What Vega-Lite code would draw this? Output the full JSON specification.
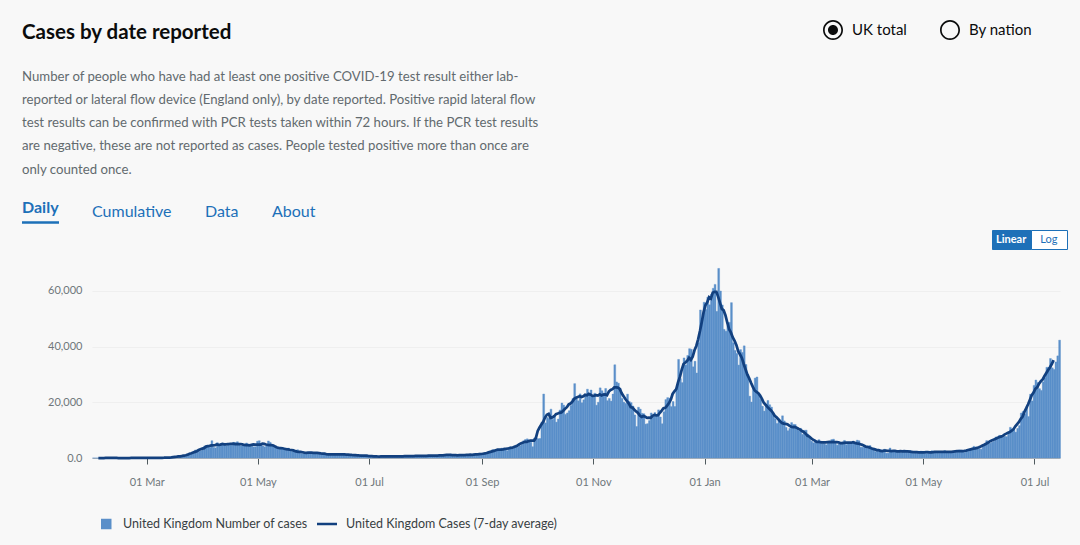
{
"$schema": "https://vega.github.io/schema/vega-lite/v6.json",
"width": 968,
"height": 195,
"padding": {"left": 22, "top": 20, "right": 13, "bottom": 14},
"background": "#f8f8f8",
"title": {
  "text": "Cases by date reported",
  "subtitle": [
    "Number of people who have had at least one positive COVID-19 test result either lab-",
    "reported or lateral flow device (England only), by date reported. Positive rapid lateral flow",
    "test results can be confirmed with PCR tests taken within 72 hours. If the PCR test results",
    "are negative, these are not reported as cases. People tested positive more than once are",
    "only counted once."
  ],
  "anchor": "start",
  "frame": "bounds",
  "offset": -156,
  "font": "Lato",
  "fontSize": 20.5,
  "fontWeight": "bold",
  "color": "#0b0c0c",
  "subtitleFont": "Lato",
  "subtitleFontSize": 13.2,
  "subtitleColor": "#626a6e",
  "subtitleLineHeight": 23.3,
  "subtitlePadding": 27
},
"datasets": {"cases": [
{"d":"2020-01-31","c":2},
{"d":"2020-02-01","c":0},{"d":"2020-02-02","c":0},{"d":"2020-02-03","c":0,"a":0},{"d":"2020-02-04","c":0,"a":0},{"d":"2020-02-05","c":0,"a":0},{"d":"2020-02-06","c":1,"a":0},{"d":"2020-02-07","c":0,"a":1},{"d":"2020-02-08","c":0,"a":1},{"d":"2020-02-09","c":1,"a":1},{"d":"2020-02-10","c":4,"a":1},{"d":"2020-02-11","c":1,"a":1},{"d":"2020-02-12","c":0,"a":1},{"d":"2020-02-13","c":1,"a":1},{"d":"2020-02-14","c":0,"a":0},{"d":"2020-02-15","c":1,"a":0},{"d":"2020-02-16","c":0,"a":0},{"d":"2020-02-17","c":0,"a":0},{"d":"2020-02-18","c":0,"a":0},{"d":"2020-02-19","c":0,"a":0},{"d":"2020-02-20","c":0,"a":0},{"d":"2020-02-21","c":0,"a":1},{"d":"2020-02-22","c":0,"a":1},{"d":"2020-02-23","c":0,"a":1},{"d":"2020-02-24","c":4,"a":1},{"d":"2020-02-25","c":0,"a":2},{"d":"2020-02-26","c":0,"a":3},{"d":"2020-02-27","c":2,"a":3},{"d":"2020-02-28","c":7,"a":4},{"d":"2020-02-29","c":5,"a":6},
{"d":"2020-03-01","c":13,"a":11},{"d":"2020-03-02","c":4,"a":15},{"d":"2020-03-03","c":11,"a":21},{"d":"2020-03-04","c":34,"a":26},{"d":"2020-03-05","c":30,"a":34},{"d":"2020-03-06","c":48,"a":40},{"d":"2020-03-07","c":43,"a":46},{"d":"2020-03-08","c":67,"a":53},{"d":"2020-03-09","c":48,"a":68},{"d":"2020-03-10","c":52,"a":91},{"d":"2020-03-11","c":83,"a":133},{"d":"2020-03-12","c":134,"a":160},{"d":"2020-03-13","c":208,"a":175},{"d":"2020-03-14","c":342,"a":225},{"d":"2020-03-15","c":251,"a":310},{"d":"2020-03-16","c":152,"a":383},{"d":"2020-03-17","c":407,"a":455},{"d":"2020-03-18","c":676,"a":554},{"d":"2020-03-19","c":643,"a":613},{"d":"2020-03-20","c":714,"a":730},{"d":"2020-03-21","c":1035,"a":875},{"d":"2020-03-22","c":665,"a":986},{"d":"2020-03-23","c":967,"a":1198},{"d":"2020-03-24","c":1427,"a":1509},{"d":"2020-03-25","c":1452,"a":1724},{"d":"2020-03-26","c":2129,"a":1977},{"d":"2020-03-27","c":2885,"a":2213},{"d":"2020-03-28","c":2546,"a":2439},{"d":"2020-03-29","c":2433,"a":2849},{"d":"2020-03-30","c":2619,"a":3151},{"d":"2020-03-31","c":3009,"a":3375},
{"d":"2020-04-01","c":4324,"a":3545},{"d":"2020-04-02","c":4244,"a":4083},{"d":"2020-04-03","c":4450,"a":4252},{"d":"2020-04-04","c":3735,"a":4341},{"d":"2020-04-05","c":6200,"a":4508},{"d":"2020-04-06","c":3802,"a":4522},{"d":"2020-04-07","c":3634,"a":4629},{"d":"2020-04-08","c":5491,"a":4843},{"d":"2020-04-09","c":4344,"a":4713},{"d":"2020-04-10","c":5200,"a":4790},{"d":"2020-04-11","c":5233,"a":5021},{"d":"2020-04-12","c":5288,"a":4895},{"d":"2020-04-13","c":4342,"a":4934},{"d":"2020-04-14","c":5252,"a":4991},{"d":"2020-04-15","c":4603,"a":5032},{"d":"2020-04-16","c":4617,"a":5113},{"d":"2020-04-17","c":5599,"a":5160},{"d":"2020-04-18","c":5525,"a":5024},{"d":"2020-04-19","c":5850,"a":5003},{"d":"2020-04-20","c":4676,"a":4998},{"d":"2020-04-21","c":4301,"a":4967},{"d":"2020-04-22","c":4451,"a":4880},{"d":"2020-04-23","c":4583,"a":4682},{"d":"2020-04-24","c":5386,"a":4629},{"d":"2020-04-25","c":4913,"a":4586},{"d":"2020-04-26","c":4463,"a":4532},{"d":"2020-04-27","c":4309,"a":4739},{"d":"2020-04-28","c":3996,"a":4856},{"d":"2020-04-29","c":4076,"a":4840},{"d":"2020-04-30","c":6032,"a":4823},
{"d":"2020-05-01","c":6201,"a":4776},{"d":"2020-05-02","c":4806,"a":4835},{"d":"2020-05-03","c":4339,"a":5126},{"d":"2020-05-04","c":3985,"a":5066},{"d":"2020-05-05","c":4406,"a":4844},{"d":"2020-05-06","c":6111,"a":4714},{"d":"2020-05-07","c":5614,"a":4655},{"d":"2020-05-08","c":4649,"a":4639},{"d":"2020-05-09","c":3896,"a":4496},{"d":"2020-05-10","c":3923,"a":4086},{"d":"2020-05-11","c":3877,"a":3777},{"d":"2020-05-12","c":3403,"a":3621},{"d":"2020-05-13","c":3242,"a":3557},{"d":"2020-05-14","c":3446,"a":3502},{"d":"2020-05-15","c":3560,"a":3331},{"d":"2020-05-16","c":3451,"a":3190},{"d":"2020-05-17","c":3534,"a":3080},{"d":"2020-05-18","c":2684,"a":2961},{"d":"2020-05-19","c":2412,"a":2875},{"d":"2020-05-20","c":2472,"a":2726},{"d":"2020-05-21","c":2615,"a":2454},{"d":"2020-05-22","c":2959,"a":2295},{"d":"2020-05-23","c":2409,"a":2236},{"d":"2020-05-24","c":1625,"a":2171},{"d":"2020-05-25","c":1570,"a":2067},{"d":"2020-05-26","c":2004,"a":1943},{"d":"2020-05-27","c":2013,"a":1876},{"d":"2020-05-28","c":1887,"a":1920},{"d":"2020-05-29","c":2095,"a":1920},{"d":"2020-05-30","c":1936,"a":1901},{"d":"2020-05-31","c":1936,"a":1881},
{"d":"2020-06-01","c":1570,"a":1869},{"d":"2020-06-02","c":1871,"a":1806},{"d":"2020-06-03","c":1871,"a":1751},{"d":"2020-06-04","c":1805,"a":1664},{"d":"2020-06-05","c":1650,"a":1612},{"d":"2020-06-06","c":1557,"a":1543},{"d":"2020-06-07","c":1326,"a":1419},{"d":"2020-06-08","c":1205,"a":1342},{"d":"2020-06-09","c":1387,"a":1326},{"d":"2020-06-10","c":1003,"a":1308},{"d":"2020-06-11","c":1266,"a":1334},{"d":"2020-06-12","c":1541,"a":1313},{"d":"2020-06-13","c":1425,"a":1298},{"d":"2020-06-14","c":1514,"a":1314},{"d":"2020-06-15","c":1056,"a":1307},{"d":"2020-06-16","c":1279,"a":1279},{"d":"2020-06-17","c":1115,"a":1260},{"d":"2020-06-18","c":1218,"a":1219},{"d":"2020-06-19","c":1346,"a":1205},{"d":"2020-06-20","c":1295,"a":1147},{"d":"2020-06-21","c":1221,"a":1081},{"d":"2020-06-22","c":958,"a":1066},{"d":"2020-06-23","c":874,"a":1018},{"d":"2020-06-24","c":653,"a":960},{"d":"2020-06-25","c":1118,"a":914},{"d":"2020-06-26","c":1006,"a":894},{"d":"2020-06-27","c":890,"a":867},{"d":"2020-06-28","c":901,"a":893},{"d":"2020-06-29","c":815,"a":815},{"d":"2020-06-30","c":689,"a":749},
{"d":"2020-07-01","c":829,"a":711},{"d":"2020-07-02","c":576,"a":656},{"d":"2020-07-03","c":544,"a":590},{"d":"2020-07-04","c":624,"a":575},{"d":"2020-07-05","c":516,"a":546},{"d":"2020-07-06","c":352,"a":537},{"d":"2020-07-07","c":581,"a":551},{"d":"2020-07-08","c":630,"a":579},{"d":"2020-07-09","c":512,"a":598},{"d":"2020-07-10","c":642,"a":624},{"d":"2020-07-11","c":820,"a":626},{"d":"2020-07-12","c":650,"a":613},{"d":"2020-07-13","c":530,"a":606},{"d":"2020-07-14","c":598,"a":612},{"d":"2020-07-15","c":538,"a":613},{"d":"2020-07-16","c":463,"a":603},{"d":"2020-07-17","c":687,"a":604},{"d":"2020-07-18","c":827,"a":582},{"d":"2020-07-19","c":580,"a":585},{"d":"2020-07-20","c":536,"a":629},{"d":"2020-07-21","c":445,"a":641},{"d":"2020-07-22","c":560,"a":632},{"d":"2020-07-23","c":769,"a":656},{"d":"2020-07-24","c":768,"a":677},{"d":"2020-07-25","c":767,"a":697},{"d":"2020-07-26","c":747,"a":726},{"d":"2020-07-27","c":685,"a":737},{"d":"2020-07-28","c":581,"a":753},{"d":"2020-07-29","c":763,"a":749},{"d":"2020-07-30","c":846,"a":749},{"d":"2020-07-31","c":880,"a":785},
{"d":"2020-08-01","c":743,"a":798},{"d":"2020-08-02","c":744,"a":816},{"d":"2020-08-03","c":938,"a":831},{"d":"2020-08-04","c":670,"a":830},{"d":"2020-08-05","c":892,"a":832},{"d":"2020-08-06","c":950,"a":877},{"d":"2020-08-07","c":871,"a":860},{"d":"2020-08-08","c":758,"a":928},{"d":"2020-08-09","c":1062,"a":945},{"d":"2020-08-10","c":816,"a":978},{"d":"2020-08-11","c":1148,"a":1059},{"d":"2020-08-12","c":1009,"a":1096},{"d":"2020-08-13","c":1182,"a":1093},{"d":"2020-08-14","c":1441,"a":1078},{"d":"2020-08-15","c":1012,"a":1069},{"d":"2020-08-16","c":1040,"a":1041},{"d":"2020-08-17","c":713,"a":1041},{"d":"2020-08-18","c":1089,"a":983},{"d":"2020-08-19","c":812,"a":1022},{"d":"2020-08-20","c":1182,"a":1023},{"d":"2020-08-21","c":1033,"a":1043},{"d":"2020-08-22","c":1288,"a":1056},{"d":"2020-08-23","c":1041,"a":1090},{"d":"2020-08-24","c":853,"a":1138},{"d":"2020-08-25","c":1184,"a":1173},{"d":"2020-08-26","c":1048,"a":1147},{"d":"2020-08-27","c":1522,"a":1244},{"d":"2020-08-28","c":1276,"a":1323},{"d":"2020-08-29","c":1108,"a":1339},{"d":"2020-08-30","c":1715,"a":1404},{"d":"2020-08-31","c":1406,"a":1435},
{"d":"2020-09-01","c":1295,"a":1530},{"d":"2020-09-02","c":1508,"a":1630},{"d":"2020-09-03","c":1735,"a":1812},{"d":"2020-09-04","c":1940,"a":2032},{"d":"2020-09-05","c":1813,"a":2199},{"d":"2020-09-06","c":2988,"a":2363},{"d":"2020-09-07","c":2948,"a":2532},{"d":"2020-09-08","c":2460,"a":2761},{"d":"2020-09-09","c":2659,"a":3001},{"d":"2020-09-10","c":2919,"a":3050},{"d":"2020-09-11","c":3539,"a":3004},{"d":"2020-09-12","c":3497,"a":3096},{"d":"2020-09-13","c":3330,"a":3286},{"d":"2020-09-14","c":2621,"a":3354},{"d":"2020-09-15","c":3105,"a":3466},{"d":"2020-09-16","c":3991,"a":3598},{"d":"2020-09-17","c":3395,"a":3679},{"d":"2020-09-18","c":4322,"a":3929},{"d":"2020-09-19","c":4422,"a":4189},{"d":"2020-09-20","c":3899,"a":4501},{"d":"2020-09-21","c":4368,"a":4964},{"d":"2020-09-22","c":4926,"a":5329},{"d":"2020-09-23","c":6178,"a":5560},{"d":"2020-09-24","c":6634,"a":5816},{"d":"2020-09-25","c":6874,"a":5770},{"d":"2020-09-26","c":6042,"a":6087},{"d":"2020-09-27","c":5693,"a":6220},{"d":"2020-09-28","c":4044,"a":6260},{"d":"2020-09-29","c":7143,"a":6273},{"d":"2020-09-30","c":7108,"a":7249},
{"d":"2020-10-01","c":6914,"a":9716},{"d":"2020-10-02","c":6968,"a":10937},{"d":"2020-10-03","c":12872,"a":11994},{"d":"2020-10-04","c":22961,"a":13002},{"d":"2020-10-05","c":12594,"a":14520},{"d":"2020-10-06","c":14542,"a":15505},{"d":"2020-10-07","c":14162,"a":15833},{"d":"2020-10-08","c":17540,"a":14391},{"d":"2020-10-09","c":13864,"a":14588},{"d":"2020-10-10","c":15166,"a":14973},{"d":"2020-10-11","c":12872,"a":15767},{"d":"2020-10-12","c":13972,"a":15973},{"d":"2020-10-13","c":17234,"a":16228},{"d":"2020-10-14","c":19724,"a":16372},{"d":"2020-10-15","c":18980,"a":16959},{"d":"2020-10-16","c":15650,"a":17649},{"d":"2020-10-17","c":16171,"a":18235},{"d":"2020-10-18","c":16982,"a":19229},{"d":"2020-10-19","c":18804,"a":19553},{"d":"2020-10-20","c":21331,"a":20250},{"d":"2020-10-21","c":26688,"a":21227},{"d":"2020-10-22","c":21242,"a":21628},{"d":"2020-10-23","c":20530,"a":21926},{"d":"2020-10-24","c":23012,"a":22148},{"d":"2020-10-25","c":19790,"a":21864},{"d":"2020-10-26","c":20890,"a":22125},{"d":"2020-10-27","c":22885,"a":22678},{"d":"2020-10-28","c":24701,"a":22522},{"d":"2020-10-29","c":23065,"a":23016},{"d":"2020-10-30","c":24405,"a":22739},{"d":"2020-10-31","c":21915,"a":22330},
{"d":"2020-11-01","c":23254,"a":22398},{"d":"2020-11-02","c":18950,"a":22551},{"d":"2020-11-03","c":20018,"a":22392},{"d":"2020-11-04","c":25177,"a":22826},{"d":"2020-11-05","c":24141,"a":22443},{"d":"2020-11-06","c":23287,"a":22786},{"d":"2020-11-07","c":24957,"a":22842},{"d":"2020-11-08","c":20572,"a":22524},{"d":"2020-11-09","c":21350,"a":23857},{"d":"2020-11-10","c":20412,"a":24430},{"d":"2020-11-11","c":22950,"a":24702},{"d":"2020-11-12","c":33470,"a":25329},{"d":"2020-11-13","c":27301,"a":25331},{"d":"2020-11-14","c":26860,"a":25280},{"d":"2020-11-15","c":24962,"a":24802},{"d":"2020-11-16","c":21363,"a":23294},{"d":"2020-11-17","c":20051,"a":22287},{"d":"2020-11-18","c":19609,"a":21290},{"d":"2020-11-19","c":22915,"a":20390},{"d":"2020-11-20","c":20252,"a":19545},{"d":"2020-11-21","c":19875,"a":18295},{"d":"2020-11-22","c":18662,"a":18095},{"d":"2020-11-23","c":15450,"a":17329},{"d":"2020-11-24","c":11299,"a":16725},{"d":"2020-11-25","c":18213,"a":16153},{"d":"2020-11-26","c":17555,"a":15224},{"d":"2020-11-27","c":16022,"a":14778},{"d":"2020-11-28","c":15871,"a":15082},{"d":"2020-11-29","c":12155,"a":14790},{"d":"2020-11-30","c":12330,"a":14408},
{"d":"2020-12-01","c":13430,"a":14448},{"d":"2020-12-02","c":16170,"a":14400},{"d":"2020-12-03","c":14879,"a":15131},{"d":"2020-12-04","c":16298,"a":15472},{"d":"2020-12-05","c":15539,"a":15308},{"d":"2020-12-06","c":17272,"a":15367},{"d":"2020-12-07","c":14718,"a":16236},{"d":"2020-12-08","c":12282,"a":17004},{"d":"2020-12-09","c":16578,"a":17855},{"d":"2020-12-10","c":20964,"a":18023},{"d":"2020-12-11","c":21672,"a":18815},{"d":"2020-12-12","c":21502,"a":19697},{"d":"2020-12-13","c":18447,"a":20923},{"d":"2020-12-14","c":20263,"a":22983},{"d":"2020-12-15","c":18450,"a":23959},{"d":"2020-12-16","c":25161,"a":24752},{"d":"2020-12-17","c":35383,"a":27249},{"d":"2020-12-18","c":28507,"a":29121},{"d":"2020-12-19","c":27052,"a":31743},{"d":"2020-12-20","c":35928,"a":33754},{"d":"2020-12-21","c":33364,"a":34275},{"d":"2020-12-22","c":36804,"a":34878},{"d":"2020-12-23","c":39237,"a":35970},{"d":"2020-12-24","c":39036,"a":35194},{"d":"2020-12-25","c":32725,"a":36340},{"d":"2020-12-26","c":34693,"a":38673},{"d":"2020-12-27","c":30501,"a":40214},{"d":"2020-12-28","c":41385,"a":42622},{"d":"2020-12-29","c":53135,"a":45559},{"d":"2020-12-30","c":50023,"a":48849},{"d":"2020-12-31","c":55892,"a":52348},
{"d":"2021-01-01","c":53285,"a":54833},{"d":"2021-01-02","c":57725,"a":55945},{"d":"2021-01-03","c":54990,"a":57702},{"d":"2021-01-04","c":58784,"a":57234},{"d":"2021-01-05","c":60916,"a":59344},{"d":"2021-01-06","c":62322,"a":59660},{"d":"2021-01-07","c":52618,"a":59653},{"d":"2021-01-08","c":68053,"a":57851},{"d":"2021-01-09","c":59937,"a":55653},{"d":"2021-01-10","c":54940,"a":53539},{"d":"2021-01-11","c":46169,"a":52977},{"d":"2021-01-12","c":45533,"a":51221},{"d":"2021-01-13","c":47525,"a":48565},{"d":"2021-01-14","c":48682,"a":46231},{"d":"2021-01-15","c":55761,"a":44997},{"d":"2021-01-16","c":41346,"a":43257},{"d":"2021-01-17","c":38598,"a":42026},{"d":"2021-01-18","c":37535,"a":40485},{"d":"2021-01-19","c":33355,"a":38270},{"d":"2021-01-20","c":38905,"a":37157},{"d":"2021-01-21","c":37892,"a":35929},{"d":"2021-01-22","c":40261,"a":33738},{"d":"2021-01-23","c":33552,"a":31843},{"d":"2021-01-24","c":30004,"a":29900},{"d":"2021-01-25","c":22195,"a":28584},{"d":"2021-01-26","c":20089,"a":26987},{"d":"2021-01-27","c":25308,"a":25519},{"d":"2021-01-28","c":28680,"a":24245},{"d":"2021-01-29","c":29079,"a":23732},{"d":"2021-01-30","c":23275,"a":23268},{"d":"2021-01-31","c":21088,"a":22396},
{"d":"2021-02-01","c":18607,"a":21246},{"d":"2021-02-02","c":16840,"a":19823},{"d":"2021-02-03","c":19202,"a":19107},{"d":"2021-02-04","c":20634,"a":18358},{"d":"2021-02-05","c":19114,"a":17714},{"d":"2021-02-06","c":18262,"a":17075},{"d":"2021-02-07","c":15845,"a":16260},{"d":"2021-02-08","c":14104,"a":15171},{"d":"2021-02-09","c":12364,"a":14604},{"d":"2021-02-10","c":13494,"a":13896},{"d":"2021-02-11","c":13013,"a":13200},{"d":"2021-02-12","c":15144,"a":12580},{"d":"2021-02-13","c":13308,"a":12332},{"d":"2021-02-14","c":10972,"a":12221},{"d":"2021-02-15","c":9765,"a":12084},{"d":"2021-02-16","c":10625,"a":11639},{"d":"2021-02-17","c":12718,"a":11224},{"d":"2021-02-18","c":12057,"a":11062},{"d":"2021-02-19","c":12027,"a":11187},{"d":"2021-02-20","c":10406,"a":10882},{"d":"2021-02-21","c":9834,"a":10485},{"d":"2021-02-22","c":10641,"a":10189},{"d":"2021-02-23","c":8489,"a":9688},{"d":"2021-02-24","c":9938,"a":9263},{"d":"2021-02-25","c":9985,"a":8721},{"d":"2021-02-26","c":8523,"a":7980},{"d":"2021-02-27","c":7434,"a":7680},{"d":"2021-02-28","c":6035,"a":7084},
{"d":"2021-03-01","c":5455,"a":6597},{"d":"2021-03-02","c":6391,"a":6242},{"d":"2021-03-03","c":5766,"a":5777},{"d":"2021-03-04","c":6573,"a":5797},{"d":"2021-03-05","c":6040,"a":5691},{"d":"2021-03-06","c":5177,"a":5602},{"d":"2021-03-07","c":5177,"a":5624},{"d":"2021-03-08","c":4712,"a":5630},{"d":"2021-03-09","c":5766,"a":5731},{"d":"2021-03-10","c":5926,"a":5782},{"d":"2021-03-11","c":6609,"a":5703},{"d":"2021-03-12","c":6753,"a":5756},{"d":"2021-03-13","c":5534,"a":5689},{"d":"2021-03-14","c":4618,"a":5665},{"d":"2021-03-15","c":5089,"a":5621},{"d":"2021-03-16","c":5294,"a":5343},{"d":"2021-03-17","c":5758,"a":5350},{"d":"2021-03-18","c":6303,"a":5449},{"d":"2021-03-19","c":4802,"a":5485},{"d":"2021-03-20","c":5587,"a":5498},{"d":"2021-03-21","c":5312,"a":5476},{"d":"2021-03-22","c":5342,"a":5489},{"d":"2021-03-23","c":5379,"a":5687},{"d":"2021-03-24","c":5605,"a":5441},{"d":"2021-03-25","c":6397,"a":5233},{"d":"2021-03-26","c":6187,"a":5135},{"d":"2021-03-27","c":3862,"a":4944},{"d":"2021-03-28","c":3862,"a":4722},{"d":"2021-03-29","c":4654,"a":4448},{"d":"2021-03-30","c":4040,"a":4050},{"d":"2021-03-31","c":4052,"a":3987},
{"d":"2021-04-01","c":4479,"a":3764},{"d":"2021-04-02","c":3402,"a":3494},{"d":"2021-04-03","c":3423,"a":3256},{"d":"2021-04-04","c":2297,"a":3101},{"d":"2021-04-05","c":2762,"a":2856},{"d":"2021-04-06","c":2379,"a":2820},{"d":"2021-04-07","c":2963,"a":2578},{"d":"2021-04-08","c":2763,"a":2497},{"d":"2021-04-09","c":3150,"a":2612},{"d":"2021-04-10","c":1730,"a":2625},{"d":"2021-04-11","c":1730,"a":2558},{"d":"2021-04-12","c":3568,"a":2545},{"d":"2021-04-13","c":2472,"a":2466},{"d":"2021-04-14","c":2491,"a":2534},{"d":"2021-04-15","c":2672,"a":2555},{"d":"2021-04-16","c":2596,"a":2406},{"d":"2021-04-17","c":2206,"a":2395},{"d":"2021-04-18","c":1882,"a":2429},{"d":"2021-04-19","c":2524,"a":2415},{"d":"2021-04-20","c":2396,"a":2427},{"d":"2021-04-21","c":2729,"a":2384},{"d":"2021-04-22","c":2573,"a":2360},{"d":"2021-04-23","c":2678,"a":2294},{"d":"2021-04-24","c":1907,"a":2230},{"d":"2021-04-25","c":1712,"a":2149},{"d":"2021-04-26","c":2064,"a":2131},{"d":"2021-04-27","c":1946,"a":2089},{"d":"2021-04-28","c":2166,"a":2055},{"d":"2021-04-29","c":2445,"a":2046},{"d":"2021-04-30","c":2381,"a":2004},
{"d":"2021-05-01","c":1671,"a":2004},{"d":"2021-05-02","c":1649,"a":2068},{"d":"2021-05-03","c":1770,"a":2074},{"d":"2021-05-04","c":1946,"a":2027},{"d":"2021-05-05","c":2613,"a":2060},{"d":"2021-05-06","c":2490,"a":2078},{"d":"2021-05-07","c":2047,"a":2161},{"d":"2021-05-08","c":1907,"a":2210},{"d":"2021-05-09","c":1770,"a":2216},{"d":"2021-05-10","c":2357,"a":2174},{"d":"2021-05-11","c":2284,"a":2194},{"d":"2021-05-12","c":2657,"a":2197},{"d":"2021-05-13","c":2193,"a":2227},{"d":"2021-05-14","c":2193,"a":2173},{"d":"2021-05-15","c":1926,"a":2191},{"d":"2021-05-16","c":1979,"a":2197},{"d":"2021-05-17","c":1979,"a":2294},{"d":"2021-05-18","c":2412,"a":2385},{"d":"2021-05-19","c":2696,"a":2429},{"d":"2021-05-20","c":2874,"a":2429},{"d":"2021-05-21","c":2829,"a":2495},{"d":"2021-05-22","c":2235,"a":2506},{"d":"2021-05-23","c":1979,"a":2576},{"d":"2021-05-24","c":2439,"a":2671},{"d":"2021-05-25","c":2493,"a":2864},{"d":"2021-05-26","c":3180,"a":3030},{"d":"2021-05-27","c":3542,"a":3211},{"d":"2021-05-28","c":4182,"a":3345},{"d":"2021-05-29","c":3398,"a":3441},{"d":"2021-05-30","c":3240,"a":3606},{"d":"2021-05-31","c":3383,"a":3853},
{"d":"2021-06-01","c":3165,"a":4147},{"d":"2021-06-02","c":4330,"a":4485},{"d":"2021-06-03","c":5274,"a":4785},{"d":"2021-06-04","c":6238,"a":5114},{"d":"2021-06-05","c":5765,"a":5526},{"d":"2021-06-06","c":5341,"a":5984},{"d":"2021-06-07","c":5683,"a":6287},{"d":"2021-06-08","c":6048,"a":6556},{"d":"2021-06-09","c":7540,"a":6838},{"d":"2021-06-10","c":7393,"a":7145},{"d":"2021-06-11","c":8125,"a":7439},{"d":"2021-06-12","c":7738,"a":7672},{"d":"2021-06-13","c":7490,"a":7888},{"d":"2021-06-14","c":7742,"a":8404},{"d":"2021-06-15","c":7673,"a":8740},{"d":"2021-06-16","c":9055,"a":9109},{"d":"2021-06-17","c":11007,"a":9365},{"d":"2021-06-18","c":10476,"a":9778},{"d":"2021-06-19","c":10321,"a":10343},{"d":"2021-06-20","c":9284,"a":11354},{"d":"2021-06-21","c":10633,"a":12168},{"d":"2021-06-22","c":11625,"a":12930},{"d":"2021-06-23","c":16135,"a":14066},{"d":"2021-06-24","c":16703,"a":14865},{"d":"2021-06-25","c":15810,"a":16612},{"d":"2021-06-26","c":18270,"a":17877},{"d":"2021-06-27","c":14876,"a":19296},{"d":"2021-06-28","c":22868,"a":20909},{"d":"2021-06-29","c":20479,"a":22525},{"d":"2021-06-30","c":26068,"a":23470},
{"d":"2021-07-01","c":27989,"a":24809},{"d":"2021-07-02","c":27125,"a":25447},{"d":"2021-07-03","c":24885,"a":26632},{"d":"2021-07-04","c":24248,"a":27557},{"d":"2021-07-05","c":27334,"a":28209},{"d":"2021-07-06","c":28773,"a":29435},{"d":"2021-07-07","c":32548,"a":30504},{"d":"2021-07-08","c":32551,"a":31579},{"d":"2021-07-09","c":35707,"a":32598},{"d":"2021-07-10","c":32367,"a":33725},{"d":"2021-07-11","c":31772,"a":35119},{"d":"2021-07-12","c":34471},{"d":"2021-07-13","c":36660},{"d":"2021-07-14","c":42302}
]},
"data": {"name": "cases"},
"layer": [
  {
    "mark": {"type": "bar", "binSpacing": 0, "stroke": "#5a8fc9", "strokeWidth": 0.4},
    "encoding": {
      "x": {
        "field": "d", "type": "temporal", "timeUnit": "utcyearmonthdate", "title": null,
        "scale": {"domain": [{"year": 2020, "month": 1, "date": 31, "utc": true}, {"year": 2021, "month": 7, "date": 15, "utc": true}]},
        "axis": {
          "values": [
            {"year": 2020, "month": 3, "date": 1, "utc": true},
            {"year": 2020, "month": 5, "date": 1, "utc": true},
            {"year": 2020, "month": 7, "date": 1, "utc": true},
            {"year": 2020, "month": 9, "date": 1, "utc": true},
            {"year": 2020, "month": 11, "date": 1, "utc": true},
            {"year": 2021, "month": 1, "date": 1, "utc": true},
            {"year": 2021, "month": 3, "date": 1, "utc": true},
            {"year": 2021, "month": 5, "date": 1, "utc": true},
            {"year": 2021, "month": 7, "date": 1, "utc": true}
          ],
          "format": "%d %b",
          "grid": false,
          "domain": true,
          "domainColor": "#b1b4b6",
          "tickColor": "#505a5f",
          "tickSize": 6,
          "labelPadding": 12,
          "labelFlush": false
        }
      },
      "y": {
        "field": "c", "type": "quantitative", "title": null,
        "scale": {"domain": [0, 70000], "nice": false},
        "axis": {
          "values": [0, 20000, 40000, 60000],
          "labelExpr": "datum.value === 0 ? '0.0' : format(datum.value, ',')",
          "ticks": false,
          "domain": false,
          "grid": true,
          "gridColor": "#efefef",
          "labelPadding": 10
        }
      },
      "fill": {
        "datum": "United Kingdom Number of cases", "type": "nominal",
        "scale": {"range": ["#5a8fc9"]},
        "legend": {"title": null, "orient": "none", "legendX": 8, "legendY": 254.75, "symbolType": "square", "symbolSize": 110, "symbolStrokeWidth": 0, "labelFontSize": 12.5, "labelColor": "#383f43", "labelOffset": 10.5, "labelLimit": 400, "padding": 0}
      }
    }
  },
  {
    "mark": {"type": "line", "strokeWidth": 2.75},
    "encoding": {
      "x": {"field": "d", "type": "temporal", "timeUnit": "utcyearmonthdate", "bandPosition": 0.5, "title": null},
      "y": {"field": "a", "type": "quantitative", "title": null},
      "stroke": {
        "datum": "United Kingdom Cases (7-day average)", "type": "nominal",
        "scale": {"range": ["#12407f"]},
        "legend": {"title": null, "orient": "none", "legendX": 223.5, "legendY": 249.5, "symbolType": "stroke", "symbolSize": 400, "symbolStrokeWidth": 2.5, "labelFontSize": 12.5, "labelColor": "#383f43", "labelOffset": 7.5, "labelLimit": 400, "padding": 0}
      }
    }
  },
  {
    "data": {"values": [{}]},
    "mark": {"type": "point", "size": 0, "filled": true, "color": "#0b0c0c"},
    "encoding": {
      "shape": {
        "datum": "UK total", "type": "nominal",
        "scale": {"domain": ["UK total", "By nation"], "range": [
          "M-1,0A1,1,0,1,1,1,0A1,1,0,1,1,-1,0ZM-0.83,0A0.83,0.83,0,1,0,0.83,0A0.83,0.83,0,1,0,-0.83,0ZM-0.5,0A0.5,0.5,0,1,1,0.5,0A0.5,0.5,0,1,1,-0.5,0Z",
          "M-1,0A1,1,0,1,1,1,0A1,1,0,1,1,-1,0ZM-0.83,0A0.83,0.83,0,1,0,0.83,0A0.83,0.83,0,1,0,-0.83,0Z"
        ]},
        "legend": {"title": null, "orient": "none", "legendX": 731, "legendY": -243, "direction": "horizontal", "symbolSize": 400, "symbolOpacity": 1, "symbolStrokeWidth": 0, "symbolFillColor": "#0b0c0c", "labelFontSize": 15, "labelColor": "#0b0c0c", "labelOffset": 9, "columnPadding": 33, "padding": 0}
      }
    }
  },
  {
    "data": {"values": [{}]},
    "mark": {"type": "point", "size": 0, "filled": true, "color": "#1d70b8"},
    "encoding": {
      "shape": {
        "datum": "Daily", "type": "nominal",
        "scale": {"domain": ["Daily", "Cumulative", "Data", "About"], "range": ["M-8,13H29V15.5H-8Z", "M0,0", "M0,0", "M0,0"]},
        "legend": {"title": null, "orient": "none", "legendX": -70, "legendY": -63, "direction": "horizontal", "symbolSize": 4, "symbolOpacity": 1, "symbolStrokeWidth": 0, "symbolFillColor": "#1d70b8", "labelFontSize": 16, "labelColor": "#1d70b8", "labelOffset": -16, "columnPadding": 33, "padding": 0,
          "labelFontWeight": {"expr": "datum.value === 'Daily' ? 'bold' : 'normal'"}}
      }
    }
  },
  {
    "data": {"values": [{}]},
    "mark": {"type": "point", "size": 0},
    "encoding": {
      "fill": {
        "datum": "Linear", "type": "nominal",
        "scale": {"range": ["#1d70b8"]},
        "legend": {"title": null, "orient": "none", "legendX": 900, "legendY": -33, "symbolSize": 0, "symbolOpacity": 0, "symbolStrokeWidth": 0, "labelOffset": -11, "padding": 4, "fillColor": "#1d70b8", "strokeColor": "#1d70b8", "labelColor": "#ffffff", "labelFontWeight": "bold", "labelFontSize": 11}
      }
    }
  },
  {
    "data": {"values": [{}]},
    "mark": {"type": "point", "size": 0},
    "encoding": {
      "fill": {
        "datum": "Log", "type": "nominal",
        "scale": {"range": ["#ffffff"]},
        "legend": {"title": null, "orient": "none", "legendX": 939, "legendY": -33, "symbolType": "square", "symbolSize": 36, "symbolOffset": 19.5, "symbolOpacity": 0, "symbolStrokeWidth": 0, "labelOffset": -25.25, "padding": 4, "fillColor": "#ffffff", "strokeColor": "#1d70b8", "labelColor": "#1d70b8", "labelFontSize": 11}
      }
    }
  }
],
"resolve": {"scale": {"fill": "independent", "shape": "independent"}},
"config": {
  "font": "Lato",
  "view": {"stroke": null},
  "axis": {"labelFont": "Lato", "labelColor": "#6f777b", "labelFontSize": 11},
  "legend": {"labelFont": "Lato"}
}
}
